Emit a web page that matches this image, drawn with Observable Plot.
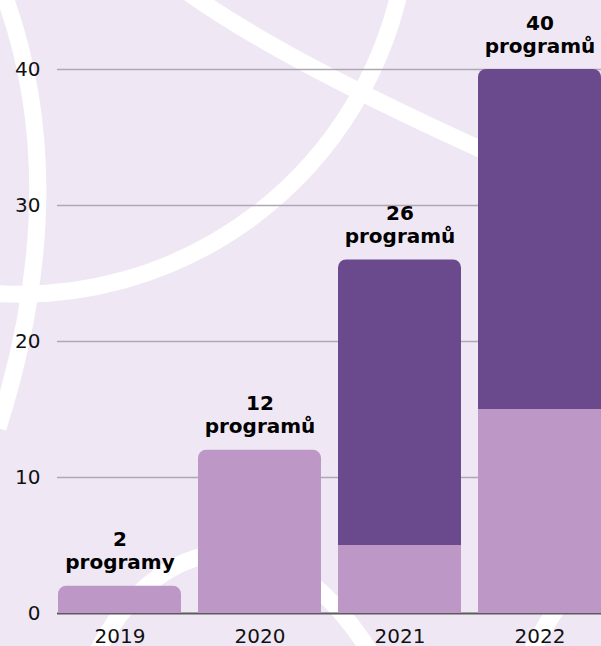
<!DOCTYPE html>
<html><head><meta charset="utf-8">
<script src="https://cdn.jsdelivr.net/npm/d3@7"></script>
<script src="https://cdn.jsdelivr.net/npm/@observablehq/plot@0.6"></script>
<style>
html,body{margin:0;padding:0;background:#efe8f4;overflow:hidden;}
#wrap{position:relative;width:601px;height:646px;overflow:hidden;}
#deco{position:absolute;left:0;top:0;}
#chart{position:absolute;left:0;top:0;}
</style></head><body>
<div id="wrap"><svg id="deco" width="601" height="646"></svg><div id="chart"></div></div>
<script>
const years = ["2019", "2020", "2021", "2022"];
const lightValues = [2, 12, 5, 15];
const darkValues = [0, 0, 21, 25];
const labelNumbers = ["2", "12", "26", "40"];
const labelWords = ["programy", "programů", "programů", "programů"];
const yTicks = [0, 10, 20, 30, 40];

const LIGHT = "#bd98c6";
const DARK = "#6a4a8d";

const rows = years.map((year, i) => ({
  year,
  light: lightValues[i],
  dark: darkValues[i],
  total: lightValues[i] + darkValues[i],
  top: darkValues[i] > 0 ? DARK : LIGHT,
  label: labelNumbers[i] + "\n" + labelWords[i]
}));

// decorative white arcs in the background
const deco = d3.select("#deco");
const paths = [
  "M 3 -8 Q 75 185 -2 428",
  "M 182 -12 Q 300 75 615 208",
  "M 402 -20 A 390 390 0 0 1 -12 293",
  "M 92 665 C 135 555, 270 480, 378 665",
  "M 525 665 Q 560 590 615 540"
];
deco.selectAll("path").data(paths).join("path")
  .attr("d", d => d).attr("fill", "none").attr("stroke", "#ffffff").attr("stroke-width", 17);

const chart = Plot.plot({
  width: 601,
  height: 646,
  marginLeft: 57,
  marginRight: 0,
  marginTop: 69,
  marginBottom: 33,
  style: {background: "transparent", fontFamily: "DejaVu Sans", fontSize: "20px", overflow: "hidden"},
  x: {type: "band", domain: years, range: [39.5, 619], padding: 0.125, label: null},
  y: {domain: [0, 40], label: null},
  marks: [
    Plot.ruleY(yTicks.filter(d => d > 0), {stroke: "#aea7b4", strokeWidth: 1.3}),
    Plot.ruleY([0], {stroke: "#5b5b5b", strokeWidth: 2}),
    Plot.barY(rows, {x: "year", y: "total", fill: "top", rx: 8}),
    Plot.barY(rows, {x: "year", y: "total", fill: "top", insetTop: 8}),
    Plot.barY(rows.filter(d => d.dark > 0), {x: "year", y: "light", fill: LIGHT}),
    Plot.text(rows, {x: "year", y: "total", text: "label", lineAnchor: "bottom", dy: -17, lineHeight: 1.15, fontSize: 20, fontWeight: "bold", fill: "#000"}),
    Plot.axisY(yTicks, {tickSize: 0, tickPadding: 17, fontSize: 20, fill: "#111", label: null}),
    Plot.axisX({tickSize: 0, tickPadding: 15, fontSize: 20, fill: "#111", label: null})
  ]
});
document.getElementById("chart").appendChild(chart);
</script>
</body></html>
